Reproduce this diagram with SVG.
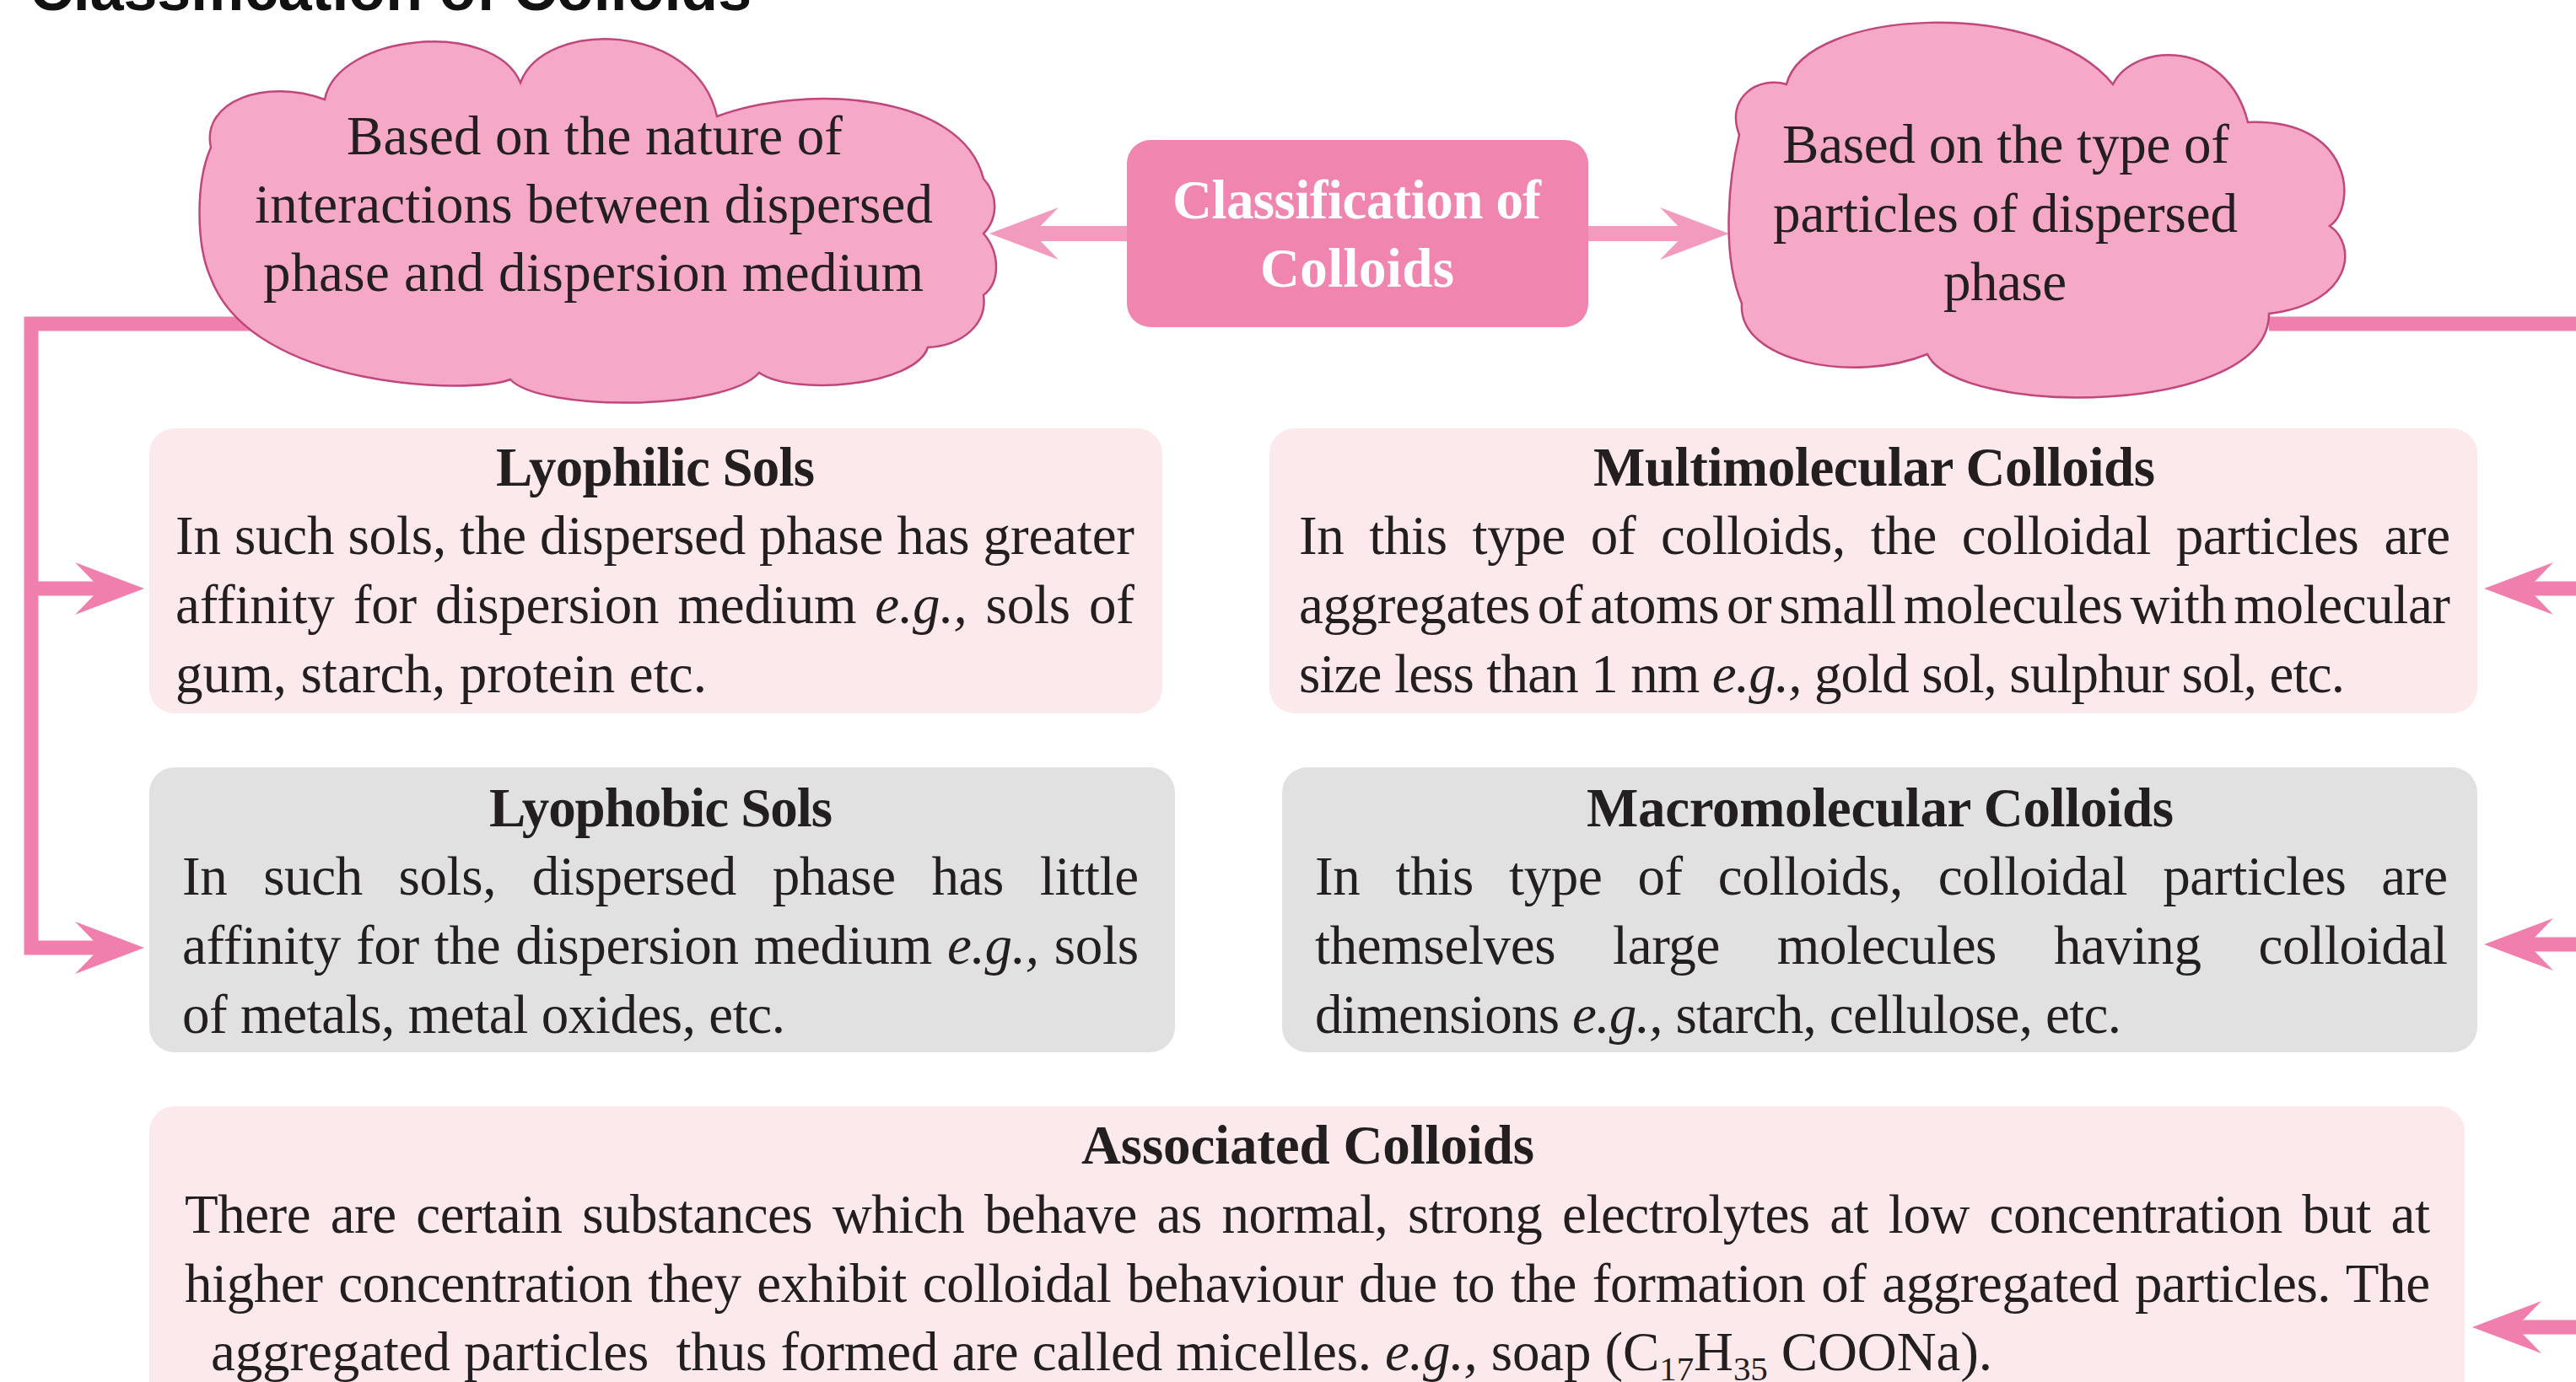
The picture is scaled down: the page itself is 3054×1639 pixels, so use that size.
<svg xmlns="http://www.w3.org/2000/svg" width="3054" height="1639" viewBox="0 0 3054 1639">
<style>
.t{font-family:"Liberation Serif","Times New Roman",serif;font-size:65px;fill:#231F20}
.b{font-weight:bold}
.i{font-style:italic}
.w{fill:#FFFFFF}
.pink{fill:#FCE9EC}
.gray{fill:#E1E1E1}
.cloud{fill:#F5A9C6;stroke:#C0467D;stroke-width:2.5}
.conn{fill:none;stroke:#F07FAD;stroke-width:17;stroke-linejoin:miter}
.carr{fill:none;stroke:#F39BBF;stroke-width:18}
.ttl{font-family:"Liberation Sans",Arial,sans-serif;font-weight:bold;font-size:72px;fill:#111}
</style>
<defs>
<marker id="ah" markerUnits="userSpaceOnUse" viewBox="0 0 82 62" markerWidth="82" markerHeight="62" refX="32" refY="31" orient="auto"><path d="M0,0 L82,31 L0,62 L30,31 Z" fill="#F07FAD"/></marker>
<marker id="ah2" markerUnits="userSpaceOnUse" viewBox="0 0 82 62" markerWidth="82" markerHeight="62" refX="32" refY="31" orient="auto"><path d="M0,0 L82,31 L0,62 L30,31 Z" fill="#F39BBF"/></marker>
</defs>
<rect width="3054" height="1639" fill="#FFFFFF"/>
<text class="ttl" x="35" y="12" textLength="856" lengthAdjust="spacingAndGlyphs">Classification of Colloids</text>

<g id="connectors">
<path class="conn" d="M300,384 H37 V1124 H121" marker-end="url(#ah)"/>
<path class="conn" d="M37,698 H121" marker-end="url(#ah)"/>
<path class="conn" d="M2690,384 H3064 V1574 H2981" marker-end="url(#ah)"/>
<path class="conn" d="M3064,698 H2995" marker-end="url(#ah)"/>
<path class="conn" d="M3064,1120 H2995" marker-end="url(#ah)"/>
<path class="carr" d="M1340,277 H1223" marker-end="url(#ah2)"/>
<path class="carr" d="M1880,277 H2000" marker-end="url(#ah2)"/>
</g>

<g id="cloud-left">
<path class="cloud" d="M250,175 C238,120 315,92 385,118 C400,40 585,22 617,98 C645,22 825,25 850,138 C950,100 1140,108 1166,212 C1186,234 1181,262 1166,277 C1186,300 1186,335 1166,350 C1171,385 1140,410 1100,412 C1085,458 940,470 900,442 C860,488 640,488 605,450 C560,468 300,462 250,330 C232,290 232,215 250,175 Z"/>
<text class="t" x="411" y="183" textLength="588" lengthAdjust="spacing">Based on the nature of</text>
<text class="t" x="302" y="264" textLength="804" lengthAdjust="spacing">interactions between dispersed</text>
<text class="t" x="312" y="345" textLength="783" lengthAdjust="spacing">phase and dispersion medium</text>
</g>

<g id="center">
<rect x="1336" y="166" width="547" height="222" rx="28" fill="#F086B0"/>
<text class="t b w" x="1390" y="259" textLength="437" lengthAdjust="spacing">Classification of</text>
<text class="t b w" x="1494" y="340" textLength="230" lengthAdjust="spacing">Colloids</text>
</g>

<g id="cloud-right">
<path class="cloud" d="M2062,160 C2045,115 2085,90 2118,100 C2140,10 2420,-5 2505,100 C2530,50 2640,45 2665,145 C2790,140 2795,245 2762,268 C2795,290 2790,360 2690,372 C2690,495 2320,495 2285,420 C2200,455 2060,430 2065,360 C2040,300 2050,210 2062,160 Z"/>
<text class="t" x="2113" y="193" textLength="530" lengthAdjust="spacing">Based on the type of</text>
<text class="t" x="2102" y="275" textLength="551" lengthAdjust="spacing">particles of dispersed</text>
<text class="t" x="2304" y="356" textLength="146" lengthAdjust="spacing">phase</text>
</g>

<g id="lyophilic">
<rect class="pink" x="177" y="508" width="1201" height="338" rx="30"/>
<text class="t b" x="588" y="576" textLength="378" lengthAdjust="spacing">Lyophilic Sols</text>
<text class="t" x="208" y="657" textLength="1137" lengthAdjust="spacing">In such sols, the dispersed phase has greater</text>
<text class="t" x="208" y="739" textLength="1137" lengthAdjust="spacing" word-spacing="6">affinity for dispersion medium <tspan class="i">e.g.,</tspan> sols of</text>
<text class="t" x="208" y="821" textLength="630" lengthAdjust="spacing">gum, starch, protein etc.</text>
</g>

<g id="lyophobic">
<rect class="gray" x="177" y="910" width="1216" height="338" rx="30"/>
<text class="t b" x="580" y="980" textLength="407" lengthAdjust="spacing">Lyophobic Sols</text>
<text class="t" x="216" y="1061" textLength="1134" lengthAdjust="spacing" word-spacing="27">In such sols, dispersed phase has little</text>
<text class="t" x="216" y="1143" textLength="1134" lengthAdjust="spacing" word-spacing="2">affinity for the dispersion medium <tspan class="i">e.g.,</tspan> sols</text>
<text class="t" x="216" y="1225" textLength="715" lengthAdjust="spacing">of metals, metal oxides, etc.</text>
</g>

<g id="multimolecular">
<rect class="pink" x="1505" y="508" width="1432" height="338" rx="30"/>
<text class="t b" x="1889" y="576" textLength="666" lengthAdjust="spacing">Multimolecular Colloids</text>
<text class="t" x="1540" y="657" textLength="1365" lengthAdjust="spacing" word-spacing="14">In this type of colloids, the colloidal particles are</text>
<text class="t" x="1540" y="739" textLength="1365" lengthAdjust="spacing" word-spacing="-7">aggregates of atoms or small molecules with molecular</text>
<text class="t" x="1540" y="821" textLength="1240" lengthAdjust="spacing">size less than 1 nm <tspan class="i">e.g.,</tspan> gold sol, sulphur sol, etc.</text>
</g>

<g id="macromolecular">
<rect class="gray" x="1520" y="910" width="1417" height="338" rx="30"/>
<text class="t b" x="1881" y="980" textLength="696" lengthAdjust="spacing">Macromolecular Colloids</text>
<text class="t" x="1559" y="1061" textLength="1343" lengthAdjust="spacing" word-spacing="26">In this type of colloids, colloidal particles are</text>
<text class="t" x="1559" y="1143" textLength="1343" lengthAdjust="spacing" word-spacing="52">themselves large molecules having colloidal</text>
<text class="t" x="1559" y="1225" textLength="956" lengthAdjust="spacing">dimensions <tspan class="i">e.g.,</tspan> starch, cellulose, etc.</text>
</g>

<g id="associated">
<rect class="pink" x="177" y="1312" width="2745" height="380" rx="30"/>
<text class="t b" x="1282" y="1380" textLength="537" lengthAdjust="spacing">Associated Colloids</text>
<text class="t" x="219" y="1462" textLength="2662" lengthAdjust="spacing" word-spacing="8">There are certain substances which behave as normal, strong electrolytes at low concentration but at</text>
<text class="t" x="219" y="1544" textLength="2662" lengthAdjust="spacing" word-spacing="3">higher concentration they exhibit colloidal behaviour due to the formation of aggregated particles. The</text>
<text class="t" x="250" y="1625" textLength="2112" lengthAdjust="spacing" xml:space="preserve">aggregated particles  thus formed are called micelles. <tspan class="i">e.g.,</tspan> soap (C<tspan font-size="41" dy="12">17</tspan><tspan dy="-12">H</tspan><tspan font-size="41" dy="12">35</tspan><tspan dy="-12"> COONa).</tspan></text>
</g>
</svg>
